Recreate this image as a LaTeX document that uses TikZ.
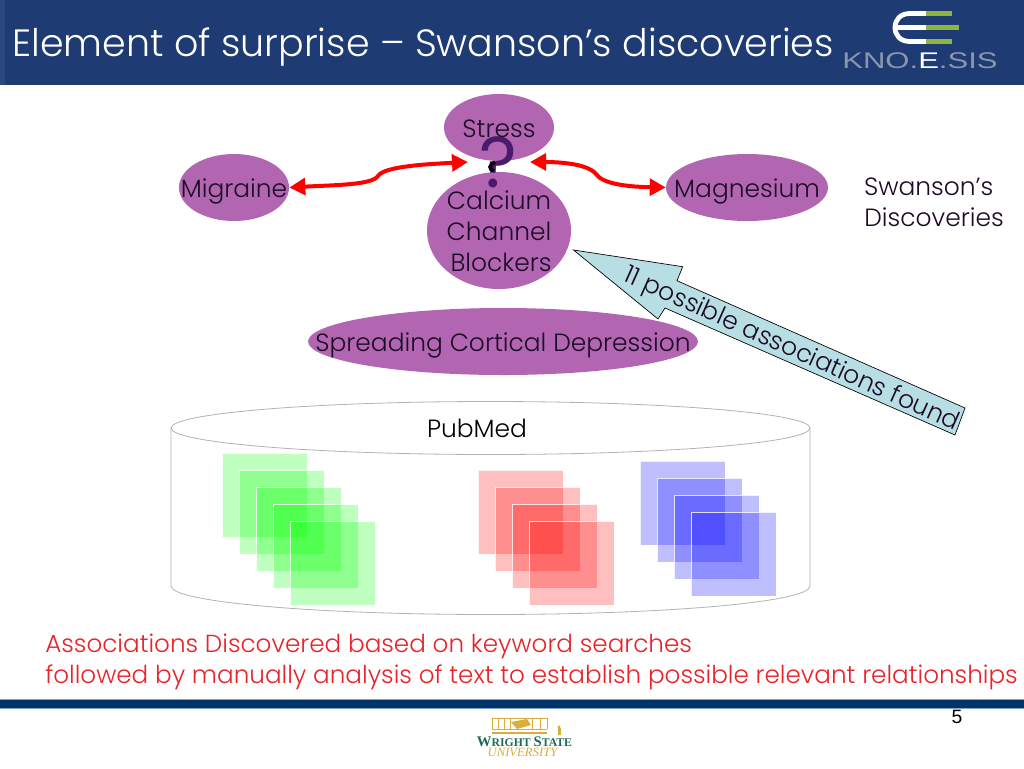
\documentclass[tikz,border=0pt]{standalone}
\usepackage{fontspec}
\setmainfont{Poppins Light}
\newfontfamily\popf{Poppins}
\newfontfamily\arialf{Liberation Sans}
\newfontfamily\wsuf{Liberation Serif}
\definecolor{hdr}{HTML}{1F3B73}
\definecolor{hdrl}{HTML}{2B4782}
\definecolor{plum}{HTML}{B266B2}
\definecolor{ink}{HTML}{1C0A26}
\definecolor{qm}{HTML}{4A1A6E}
\definecolor{teal}{HTML}{B7DEE3}
\definecolor{foot}{HTML}{003366}
\definecolor{footl}{HTML}{7FA6CC}
\definecolor{redt}{HTML}{E8232A}
\definecolor{leaf}{HTML}{8DB63C}
\definecolor{gold}{HTML}{D9AE3C}
\definecolor{wsug}{HTML}{1F6B55}
\definecolor{kgray}{HTML}{8A96AC}
\usetikzlibrary{shapes.geometric,arrows.meta}
\tikzset{
 x=0.75pt,y=-0.75pt,
 blob/.style={ellipse,fill=plum,inner sep=0pt,text=ink,align=center},
 lab/.style={inner sep=0pt,text=ink,font=\fontsize{18.7}{23.2}\selectfont,align=center},
 sheet/.style={fill opacity=.25,draw=white,draw opacity=.8,line width=.5pt},
 redarrow/.style={draw=red,line width=3pt,{Triangle[length=12pt,width=12.5pt]}-{Triangle[length=12pt,width=12.5pt]}},
 cyl/.style={draw=black!30,line width=.6pt},
}
\begin{document}
\begin{tikzpicture}
\useasboundingbox (0,0) rectangle (1024,768);
\fill[white] (0,0) rectangle (1024,768);
\fill[hdr] (0,0) rectangle (1024,85);
\fill[hdrl] (0,0) rectangle (5,85);
\node[anchor=west,inner sep=0pt,text=white,font=\fontsize{28.5}{34}\selectfont] (title) at (12,47) {Element of surprise – Swanson’s discoveries};
% Kno.e.sis logo
\draw[white,line width=3.6pt] (926,13.5) -- (910,13.5) .. controls (900,13.5) and (895,20) .. (895,27.5) .. controls (895,35) and (900,41.5) .. (910,41.5) -- (926,41.5);
\draw[white,line width=3.4pt] (895,27.5) -- (926,27.5);
\draw[leaf,line width=3.6pt] (926,13.5) -- (952,13.5);
\draw[leaf,line width=3.4pt] (926,27.5) -- (959,27.5);
\draw[leaf,line width=3.6pt] (926,41.5) -- (952,41.5);
\node[inner sep=0pt,text=kgray,xscale=1.37,font=\arialf\fontsize{17}{18}\selectfont] (kno) at (920,61) {KNO.\textcolor{white}{E}.SIS};
% ellipses
\node[blob,minimum width=110*.75pt,minimum height=67*.75pt] (stress) at (499,127.5) {};
\node[blob,minimum width=144*.75pt,minimum height=117*.75pt] (ccb) at (499,230.5) {};
\node[blob,minimum width=110*.75pt,minimum height=67*.75pt] (mig) at (234,187.5) {};
\node[blob,minimum width=162*.75pt,minimum height=67*.75pt] (mag) at (747,187.5) {};
\node[blob,minimum width=390*.75pt,minimum height=67*.75pt] (scd) at (503,341.5) {};
\node[inner sep=0pt,text=qm,font=\popf\fontsize{54}{54}\selectfont] (q) at (498,162) {?};
\draw[black,line width=2.6pt] (495,162) .. controls (489,165) and (488,169) .. (494,171);
\node[lab] (tstress) at (499,129) {Stress};
\node[lab] (tccb) at (499,231) {Calcium\\Channel\\\,Blockers};
\node[lab] (tmig) at (234,191) {Migraine};
\node[lab] (tmag) at (747,191) {Magnesium};
\node[lab] (tscd) at (503,345) {Spreading Cortical Depression};
\node[lab] (swan) at (934,202) {Swanson’s\hspace*{8pt}\\Discoveries};
% red arrows
\coordinate (qL) at (468,162);
\coordinate (qR) at (530,162);
\draw[redarrow] (mig.east) .. controls (335,185) and (372,185) .. (378,176) .. controls (384,166) and (430,164) .. (qL);
\draw[redarrow] (qR) .. controls (565,162) and (590,165) .. (597,175) .. controls (605,186) and (640,187) .. (mag.west);
% big arrow
\filldraw[fill=teal,draw=black,line width=.5pt] (573.5,250) -- (682.7,266.7) -- (677,280.7) -- (965,408) -- (955,435) -- (665,308) -- (658,319) -- cycle;
\node[lab,rotate=-24.2] (t11) at (791,350) {11 possible associations found};
% cylinder
\draw[cyl] (171,428) -- (171,586) .. controls (171,602) and (314,614.5) .. (490.5,614.5) .. controls (667,614.5) and (810,602) .. (810,586) -- (810,428);
\draw[cyl] (490.5,428) ellipse[x radius=319.5,y radius=26.5];
\node[lab,text=black] (pub) at (477,428) {PubMed};
% sheets
\foreach \x/\y in {222/453,239/470,256/487,273/504,290/521} \path[sheet,fill=green] (\x,\y) rectangle ++(85,84);
\foreach \x/\y in {478/470,495/487,512/504,529/521} \path[sheet,fill=red] (\x,\y) rectangle ++(85,84);
\foreach \x/\y in {640/461,657/478,674/495,691/512} \path[sheet,fill=blue] (\x,\y) rectangle ++(85,84);
% bottom text
\node[anchor=west,inner sep=0pt,text=redt,font=\fontsize{18.5}{23.2}\selectfont,align=left] (assoc) at (45,662) {Associations Discovered based on keyword searches\\followed by manually analysis of text to establish possible relevant relationships};
% footer
\fill[footl] (0,699.3) rectangle (1024,708.7);
\fill[foot] (0,700) rectangle (1024,708);
\node[inner sep=0pt,font=\arialf\fontsize{14.5}{16}\selectfont] (pg) at (957,717) {5};
% WSU
\draw[gold,line width=.6pt] (492,718) -- (547,718) (492,729) -- (547,729);
\foreach \x in {492,498,504,510,532,540,547} \draw[gold,line width=.5pt] (\x,718) -- (\x,729);
\fill[gold] (511,722) -- (527,719) -- (531,725) -- (517,729) -- cycle;
\draw[gold,line width=.8pt] (492,733) -- (547,733);
\fill[gold] (557.5,735) rectangle (560.5,728);
\fill[gold] (559,727) circle[radius=1.6];
\node[inner sep=0pt,text=wsug,font=\wsuf\bfseries\fontsize{8.8}{12}\selectfont] (wsu) at (524.5,741.5) {{\fontsize{11}{12}\selectfont W}RIGHT {\fontsize{11}{12}\selectfont S}TATE};
\node[inner sep=0pt,text=gold,font=\wsuf\itshape\fontsize{9.5}{11}\selectfont] (univ) at (522.5,752.5) {UNIVERSITY};
\end{tikzpicture}
\end{document}
